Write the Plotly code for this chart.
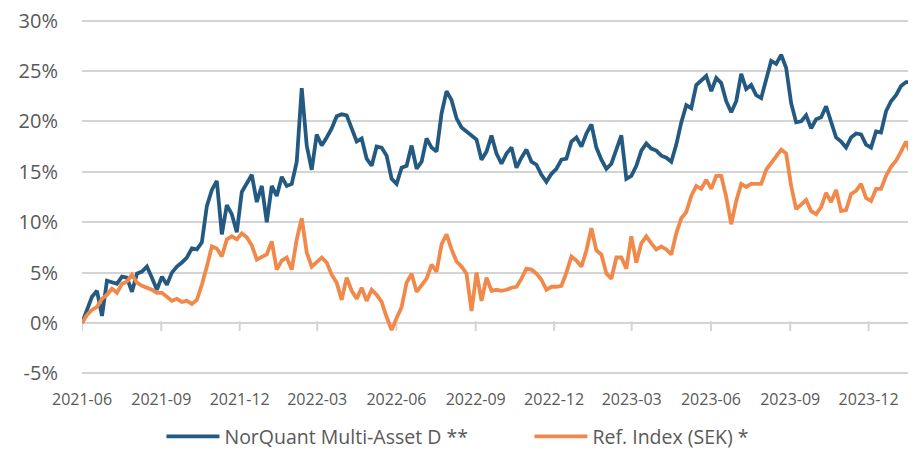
import pandas as pd
import plotly.graph_objects as go

# ---- data (cumulative return, %) ----
start_date = "2021-06-01"
end_date = "2024-01-25"
n_points = 168
dates = pd.date_range(start_date, end_date, periods=n_points)

fund_name = "NorQuant Multi-Asset D **"
ref_name = "Ref. Index (SEK) *"

fund_values = [
    0.0, 1.2, 2.6, 3.2, 0.7, 4.2, 4.0, 3.9, 4.6, 4.5,
    3.1, 4.9, 5.1, 5.6, 4.5, 3.3, 4.6, 3.8, 5.0, 5.6,
    6.0, 6.5, 7.4, 7.3, 8.0, 11.6, 13.2, 14.1, 8.8, 11.7,
    10.8, 9.0, 13.0, 13.9, 14.7, 12.0, 13.6, 10.0, 13.6, 12.6,
    14.5, 13.6, 13.8, 16.0, 23.3, 17.6, 15.2, 18.7, 17.6, 18.4,
    19.3, 20.5, 20.7, 20.6, 19.2, 18.0, 18.3, 16.3, 15.6, 17.5,
    17.4, 16.6, 14.3, 13.8, 15.4, 15.6, 17.6, 15.3, 16.0, 18.3,
    17.4, 17.0, 20.8, 23.0, 22.1, 20.3, 19.4, 19.0, 18.6, 18.2,
    16.2, 17.0, 18.6, 16.8, 15.8, 16.8, 17.4, 15.4, 16.4, 17.2,
    16.0, 15.7, 14.7, 14.0, 14.8, 15.3, 16.2, 16.3, 18.0, 18.4,
    17.5, 18.8, 19.7, 17.4, 16.2, 15.3, 15.8, 17.3, 18.6, 14.3,
    14.6, 15.6, 17.1, 17.8, 17.3, 17.1, 16.6, 16.4, 16.0, 17.7,
    19.9, 21.6, 21.3, 23.6, 24.1, 24.5, 23.0, 24.3, 23.8, 22.0,
    20.9, 22.0, 24.7, 23.2, 23.6, 22.6, 22.3, 24.2, 26.0, 25.7,
    26.6, 25.3, 21.8, 19.9, 20.0, 20.6, 19.3, 20.2, 20.4, 21.5,
    20.0, 18.4, 18.0, 17.4, 18.4, 18.8, 18.7, 17.7, 17.4, 19.0,
    18.9, 21.0, 22.0, 22.6, 23.5, 23.9, 23.9, 24.5,
]

ref_values = [
    0.0, 0.8, 1.3, 1.6, 2.4, 2.8, 3.4, 3.0, 3.9, 4.1,
    4.8, 4.0, 3.7, 3.5, 3.3, 3.0, 3.0, 2.6, 2.2, 2.4,
    2.1, 2.2, 1.9, 2.3, 3.8, 5.6, 7.6, 7.4, 6.6, 8.3,
    8.6, 8.3, 8.9, 8.5, 7.7, 6.3, 6.5, 6.8, 8.1, 5.3,
    6.2, 6.5, 5.3, 8.3, 10.4, 7.0, 5.6, 6.0, 6.5, 6.0,
    4.8, 4.0, 2.3, 4.5, 3.2, 2.4, 3.5, 2.2, 3.3, 2.8,
    2.1, 0.6, -0.7, 0.5, 1.6, 4.0, 4.9, 3.1, 3.8, 4.4,
    5.8, 5.1, 7.8, 8.8, 7.3, 6.1, 5.6, 4.9, 1.2, 5.0,
    2.2, 4.5, 3.2, 3.3, 3.2, 3.3, 3.5, 3.6, 4.4, 5.4,
    5.3, 4.9, 4.3, 3.3, 3.6, 3.6, 3.7, 5.0, 6.6, 6.2,
    5.6, 7.2, 9.4, 7.2, 6.8, 4.9, 4.4, 6.5, 6.5, 5.4,
    8.6, 6.0, 7.9, 8.6, 7.9, 7.3, 7.6, 7.3, 6.8, 8.9,
    10.4, 11.0, 12.6, 13.6, 13.3, 14.2, 13.3, 14.6, 14.6, 12.5,
    9.8, 12.1, 13.8, 13.5, 13.8, 13.8, 13.8, 15.2, 15.9, 16.5,
    17.2, 16.8, 13.6, 11.3, 11.8, 12.2, 11.1, 10.8, 11.5, 12.9,
    12.0, 13.2, 11.1, 11.2, 12.8, 13.1, 13.8, 12.4, 12.1, 13.3,
    13.3, 14.6, 15.5, 16.1, 17.0, 18.0, 16.7, 16.3,
]

tick_dates = ["2021-06-01", "2021-09-01", "2021-12-01", "2022-03-01",
              "2022-06-01", "2022-09-01", "2022-12-01", "2023-03-01",
              "2023-06-01", "2023-09-01", "2023-12-01"]
tick_labels = ["2021-06", "2021-09", "2021-12", "2022-03", "2022-06", "2022-09",
               "2022-12", "2023-03", "2023-06", "2023-09", "2023-12"]
y_ticks = [-5, 0, 5, 10, 15, 20, 25, 30]
y_tick_labels = ["-5%", "0%", "5%", "10%", "15%", "20%", "25%", "30%"]
y_range = [-5.15, 30.15]

BLUE = "#245A82"
ORANGE = "#F0894A"
GRID = "#D4D4D4"
TEXT = "#595959"
FONT = "Open Sans"

fig = go.Figure()
# small date-axis tick marks hanging below the 0% line
fig.add_trace(go.Scatter(x=tick_dates, y=[-0.3] * len(tick_dates), mode="markers",
                         marker=dict(symbol="line-ns", size=7, color=GRID,
                                     line=dict(color=GRID, width=2)),
                         showlegend=False, hoverinfo="skip"))
fig.add_trace(go.Scatter(x=dates, y=fund_values, name=fund_name, mode="lines",
                         line=dict(color=BLUE, width=3.8)))
fig.add_trace(go.Scatter(x=dates, y=ref_values, name=ref_name, mode="lines",
                         line=dict(color=ORANGE, width=3.8)))

x_range = [start_date, end_date]

# the page body adds an 8px offset, so the figure is 8px smaller on each side
fig.update_layout(
    width=908, height=449,
    margin=dict(l=74, r=0, t=11, b=82, autoexpand=False),
    plot_bgcolor="white", paper_bgcolor="white",
    font=dict(family=FONT, color=TEXT),
    showlegend=True,
    legend=dict(orientation="h", xref="container", yref="container",
                x=0.169, xanchor="left", y=0.045, yanchor="middle",
                font=dict(size=19.5, color=TEXT, family=FONT),
                itemwidth=53, entrywidth=300, entrywidthmode="pixels",
                bgcolor="rgba(0,0,0,0)"),
    xaxis=dict(range=x_range, type="date", tickmode="array",
               tickvals=tick_dates, ticktext=tick_labels,
               showgrid=False, zeroline=False, showline=False,
               ticks="outside", ticklen=10, tickcolor="rgba(0,0,0,0)",
               tickfont=dict(size=16, color=TEXT)),
    yaxis=dict(range=y_range, tickmode="array", tickvals=y_ticks,
               ticktext=y_tick_labels, showgrid=True, gridcolor=GRID,
               gridwidth=2, zeroline=False, showline=False,
               ticks="outside", ticklen=19, tickcolor="rgba(0,0,0,0)",
               ticklabeloverflow="allow",
               tickfont=dict(size=20, color=TEXT)),
)

fig.write_html("out.html")
